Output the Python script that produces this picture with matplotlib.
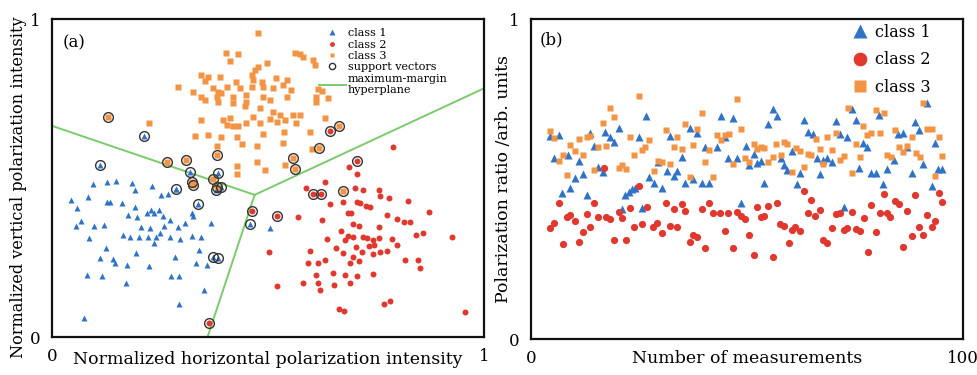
import matplotlib
matplotlib.use('Agg')
import matplotlib.pyplot as plt
from matplotlib.lines import Line2D

plt.rcParams['font.family'] = ['DejaVu Serif']

# ---- panel (a): normalized intensities ----
c1_x = [0.043, 0.058, 0.083, 0.095, 0.127, 0.149, 0.184, 0.192, 0.232, 0.253, 0.269, 0.288, 0.127, 0.134,
        0.163, 0.192, 0.230, 0.236, 0.248, 0.219, 0.176, 0.197, 0.257, 0.273, 0.323, 0.327, 0.367, 0.056,
        0.066, 0.097, 0.120, 0.086, 0.164, 0.181, 0.202, 0.222, 0.240, 0.249, 0.274, 0.296, 0.325, 0.344,
        0.205, 0.226, 0.259, 0.292, 0.307, 0.236, 0.124, 0.141, 0.110, 0.145, 0.174, 0.195, 0.225, 0.284,
        0.341, 0.334, 0.358, 0.080, 0.116, 0.172, 0.276, 0.294, 0.351, 0.294, 0.073, 0.504]
c1_y = [0.431, 0.405, 0.439, 0.481, 0.489, 0.492, 0.484, 0.461, 0.475, 0.447, 0.450, 0.465, 0.426, 0.426,
        0.421, 0.408, 0.400, 0.390, 0.400, 0.390, 0.384, 0.377, 0.379, 0.369, 0.390, 0.379, 0.360, 0.348,
        0.366, 0.350, 0.353, 0.311, 0.321, 0.314, 0.316, 0.314, 0.314, 0.327, 0.316, 0.308, 0.318, 0.314,
        0.345, 0.342, 0.348, 0.345, 0.360, 0.295, 0.280, 0.246, 0.248, 0.232, 0.227, 0.264, 0.222, 0.253,
        0.274, 0.232, 0.225, 0.196, 0.193, 0.170, 0.193, 0.193, 0.149, 0.105, 0.060, 0.342]

c2_x = [0.790, 0.707, 0.688, 0.632, 0.589, 0.701, 0.720, 0.758, 0.759, 0.781, 0.825, 0.643, 0.674, 0.707,
        0.713, 0.727, 0.737, 0.693, 0.686, 0.776, 0.798, 0.815, 0.829, 0.873, 0.570, 0.626, 0.697, 0.711,
        0.758, 0.670, 0.686, 0.697, 0.720, 0.728, 0.742, 0.758, 0.786, 0.842, 0.858, 0.925, 0.636, 0.678,
        0.657, 0.703, 0.734, 0.745, 0.759, 0.776, 0.798, 0.598, 0.673, 0.697, 0.717, 0.744, 0.503, 0.593,
        0.616, 0.632, 0.690, 0.711, 0.817, 0.848, 0.852, 0.611, 0.651, 0.678, 0.705, 0.742, 0.580, 0.616,
        0.620, 0.653, 0.690, 0.520, 0.768, 0.782, 0.665, 0.676, 0.956]
c2_y = [0.599, 0.513, 0.536, 0.486, 0.468, 0.468, 0.461, 0.461, 0.442, 0.436, 0.429, 0.419, 0.426, 0.426,
        0.421, 0.413, 0.408, 0.390, 0.390, 0.384, 0.371, 0.363, 0.363, 0.393, 0.376, 0.369, 0.356, 0.348,
        0.346, 0.332, 0.318, 0.316, 0.316, 0.311, 0.304, 0.311, 0.308, 0.321, 0.327, 0.316, 0.308, 0.304,
        0.280, 0.283, 0.285, 0.290, 0.266, 0.272, 0.290, 0.272, 0.264, 0.253, 0.266, 0.262, 0.267, 0.232,
        0.232, 0.243, 0.232, 0.238, 0.243, 0.243, 0.217, 0.195, 0.201, 0.195, 0.193, 0.199, 0.170, 0.170,
        0.149, 0.164, 0.170, 0.159, 0.105, 0.112, 0.088, 0.081, 0.079]

c3_x = [0.477, 0.402, 0.431, 0.412, 0.562, 0.574, 0.581, 0.605, 0.608, 0.497, 0.477, 0.469, 0.462, 0.346,
        0.361, 0.354, 0.388, 0.427, 0.466, 0.485, 0.518, 0.543, 0.292, 0.327, 0.373, 0.385, 0.404, 0.435,
        0.462, 0.489, 0.512, 0.534, 0.554, 0.616, 0.624, 0.346, 0.382, 0.392, 0.419, 0.450, 0.489, 0.544,
        0.611, 0.639, 0.354, 0.385, 0.419, 0.450, 0.504, 0.612, 0.446, 0.481, 0.512, 0.527, 0.466, 0.504,
        0.412, 0.396, 0.558, 0.574, 0.632, 0.225, 0.346, 0.404, 0.419, 0.431, 0.450, 0.481, 0.520, 0.539,
        0.564, 0.597, 0.331, 0.361, 0.392, 0.429, 0.489, 0.537, 0.439, 0.475, 0.535, 0.601, 0.381, 0.429,
        0.429, 0.475, 0.493, 0.539]
c3_y = [0.955, 0.894, 0.890, 0.869, 0.894, 0.890, 0.880, 0.871, 0.855, 0.861, 0.850, 0.840, 0.824, 0.824,
        0.817, 0.806, 0.817, 0.803, 0.808, 0.803, 0.814, 0.808, 0.785, 0.772, 0.782, 0.772, 0.785, 0.782,
        0.785, 0.785, 0.782, 0.793, 0.777, 0.779, 0.775, 0.756, 0.756, 0.766, 0.756, 0.761, 0.756, 0.756,
        0.756, 0.751, 0.746, 0.740, 0.735, 0.740, 0.746, 0.740, 0.725, 0.719, 0.709, 0.698, 0.693, 0.685,
        0.688, 0.683, 0.698, 0.698, 0.688, 0.672, 0.681, 0.667, 0.664, 0.662, 0.674, 0.674, 0.677, 0.681,
        0.672, 0.646, 0.632, 0.636, 0.630, 0.630, 0.639, 0.646, 0.607, 0.601, 0.609, 0.591, 0.601, 0.538,
        0.513, 0.549, 0.526, 0.541]

# support vectors per class
sv1_x = [0.112, 0.212, 0.320, 0.385, 0.286, 0.337, 0.459, 0.373, 0.385, 0.390, 0.379]
sv1_y = [0.541, 0.632, 0.518, 0.517, 0.465, 0.419, 0.356, 0.253, 0.250, 0.473, 0.461]
sv2_x = [0.643, 0.707, 0.605, 0.622, 0.464, 0.520, 0.364]
sv2_y = [0.649, 0.552, 0.450, 0.450, 0.395, 0.379, 0.044]
sv3_x = [0.130, 0.265, 0.310, 0.381, 0.325, 0.327, 0.373, 0.381, 0.558, 0.562, 0.619, 0.665, 0.674]
sv3_y = [0.691, 0.549, 0.557, 0.573, 0.489, 0.479, 0.496, 0.471, 0.562, 0.528, 0.594, 0.662, 0.458]

# hyperplane: three rays from a common vertex
hp_vertex = (0.469, 0.447)
hp_ends = [(0.0, 0.664), (1.0, 0.782), (0.360, 0.0)]

# ---- panel (b): polarization ratio per measurement ----
b1_x = [4.5, 5.4, 6.4, 7.2, 8.5, 9.1, 10.1, 11.0, 12.0, 12.9, 13.7, 14.5, 15.6, 16.6, 17.2, 18.2, 19.1, 20.3,
        21.0, 21.8, 22.6, 23.3, 24.1, 24.9, 25.7, 26.6, 27.4, 28.4, 29.5, 30.3, 31.4, 32.2, 33.0, 33.7, 34.9,
        35.7, 36.7, 37.6, 38.5, 39.5, 40.3, 41.3, 43.1, 43.9, 44.9, 45.7, 46.7, 47.6, 48.5, 49.8, 50.5, 51.5,
        52.2, 53.2, 53.9, 54.9, 55.9, 56.9, 57.8, 58.6, 59.3, 60.3, 61.5, 62.2, 63.2, 64.2, 65.2, 66.1, 66.9,
        67.6, 68.6, 69.6, 70.6, 71.5, 72.4, 73.2, 74.2, 75.2, 76.0, 76.9, 77.8, 78.6, 79.8, 80.6, 81.5, 82.4,
        84.0, 85.0, 86.1, 87.1, 88.1, 88.8, 89.8, 90.8, 91.7, 92.7, 93.5, 94.2, 95.2]
b1_y = [0.634, 0.567, 0.638, 0.457, 0.575, 0.473, 0.504, 0.557, 0.516, 0.450, 0.645, 0.603, 0.539, 0.523,
        0.648, 0.632, 0.617, 0.661, 0.405, 0.450, 0.460, 0.468, 0.473, 0.630, 0.408, 0.697, 0.505, 0.489,
        0.554, 0.471, 0.526, 0.634, 0.509, 0.526, 0.570, 0.489, 0.661, 0.499, 0.645, 0.489, 0.601, 0.489,
        0.601, 0.697, 0.630, 0.565, 0.690, 0.565, 0.426, 0.603, 0.544, 0.578, 0.549, 0.557, 0.489, 0.672,
        0.718, 0.697, 0.565, 0.544, 0.528, 0.589, 0.484, 0.518, 0.686, 0.648, 0.641, 0.565, 0.516, 0.559,
        0.565, 0.554, 0.682, 0.641, 0.414, 0.630, 0.718, 0.686, 0.536, 0.614, 0.599, 0.520, 0.520, 0.700,
        0.484, 0.530, 0.561, 0.641, 0.645, 0.601, 0.520, 0.679, 0.653, 0.547, 0.739, 0.478, 0.614, 0.533,
        0.533]

b2_x = [4.5, 5.4, 6.4, 7.3, 8.3, 9.1, 10.1, 11.0, 12.0, 12.9, 13.7, 14.6, 15.6, 16.8, 17.4, 18.3, 19.3, 20.3,
        21.0, 22.0, 23.0, 23.9, 24.9, 25.7, 26.8, 28.2, 29.1, 30.3, 31.3, 32.2, 33.1, 33.9, 34.9, 35.7, 36.7,
        37.6, 38.5, 39.5, 40.3, 41.3, 42.2, 43.8, 44.9, 45.7, 46.7, 47.6, 48.5, 49.5, 50.5, 51.5, 52.2, 53.2,
        53.9, 54.9, 55.9, 56.9, 57.6, 58.6, 59.6, 60.3, 61.1, 62.2, 63.2, 64.2, 64.9, 65.7, 66.9, 67.6, 68.6,
        69.6, 70.7, 71.5, 72.4, 73.2, 74.4, 75.2, 76.1, 77.0, 78.0, 78.8, 79.8, 80.7, 81.7, 82.4, 83.2, 84.2,
        85.2, 86.1, 87.1, 88.1, 88.8, 89.8, 90.8, 91.7, 92.7, 93.5, 94.5, 95.2]
b2_y = [0.346, 0.364, 0.424, 0.297, 0.380, 0.388, 0.370, 0.304, 0.335, 0.390, 0.351, 0.426, 0.380, 0.536,
        0.380, 0.374, 0.311, 0.398, 0.377, 0.309, 0.408, 0.349, 0.478, 0.359, 0.414, 0.351, 0.364, 0.330,
        0.426, 0.353, 0.405, 0.349, 0.422, 0.401, 0.304, 0.325, 0.318, 0.405, 0.286, 0.424, 0.395, 0.393,
        0.339, 0.393, 0.283, 0.398, 0.384, 0.374, 0.325, 0.263, 0.414, 0.380, 0.384, 0.416, 0.255, 0.424,
        0.359, 0.353, 0.301, 0.341, 0.349, 0.339, 0.464, 0.395, 0.436, 0.384, 0.403, 0.311, 0.299, 0.346,
        0.391, 0.395, 0.341, 0.346, 0.398, 0.343, 0.339, 0.377, 0.273, 0.419, 0.335, 0.393, 0.453, 0.395,
        0.380, 0.432, 0.422, 0.289, 0.401, 0.322, 0.450, 0.349, 0.325, 0.388, 0.351, 0.370, 0.457, 0.427]

b3_x = [4.5, 5.4, 6.4, 7.3, 8.3, 9.1, 10.1, 11.0, 12.0, 12.9, 13.7, 14.6, 15.4, 16.6, 17.4, 18.3, 19.3, 20.3,
        21.0, 22.0, 23.0, 23.9, 24.9, 25.7, 26.4, 27.4, 28.4, 29.5, 30.3, 31.3, 32.2, 33.1, 33.9, 34.9, 35.7,
        36.7, 37.6, 38.5, 39.5, 40.3, 41.3, 42.2, 43.0, 43.9, 44.9, 45.9, 46.7, 47.6, 48.5, 49.5, 50.5, 51.5,
        52.2, 53.2, 53.9, 54.9, 55.9, 56.7, 57.8, 58.6, 59.3, 60.3, 61.3, 62.2, 63.2, 64.2, 64.9, 65.9, 66.9,
        67.6, 68.6, 69.6, 70.6, 71.5, 72.4, 73.4, 74.4, 75.2, 76.1, 76.9, 77.8, 78.8, 79.8, 80.7, 81.7, 82.4,
        83.4, 84.2, 85.2, 86.1, 87.1, 88.1, 89.1, 90.0, 90.8, 91.7, 92.7, 93.5, 94.5, 95.2]
b3_y = [0.650, 0.627, 0.557, 0.575, 0.513, 0.606, 0.589, 0.624, 0.575, 0.630, 0.634, 0.528, 0.601, 0.676,
        0.603, 0.721, 0.693, 0.536, 0.544, 0.533, 0.632, 0.575, 0.759, 0.591, 0.601, 0.622, 0.526, 0.557,
        0.554, 0.653, 0.547, 0.599, 0.630, 0.593, 0.672, 0.505, 0.606, 0.655, 0.705, 0.554, 0.591, 0.507,
        0.638, 0.622, 0.638, 0.641, 0.547, 0.749, 0.655, 0.565, 0.554, 0.611, 0.593, 0.599, 0.596, 0.554,
        0.570, 0.609, 0.575, 0.617, 0.609, 0.523, 0.596, 0.589, 0.539, 0.578, 0.575, 0.624, 0.593, 0.547,
        0.632, 0.591, 0.645, 0.561, 0.572, 0.721, 0.520, 0.611, 0.568, 0.666, 0.638, 0.643, 0.716, 0.645,
        0.705, 0.575, 0.570, 0.653, 0.601, 0.585, 0.603, 0.632, 0.582, 0.568, 0.739, 0.658, 0.658, 0.509,
        0.630, 0.572]

blue = '#2f72c6'
red = '#e0382e'
orange = '#f29444'
green = '#7acb6c'

fig = plt.figure(figsize=(9.78, 3.75), dpi=100)
ax1 = fig.add_axes([0.0532, 0.1013, 0.4417, 0.848])
ax2 = fig.add_axes([0.543, 0.096, 0.4417, 0.853])

# (a)
for end in hp_ends:
    ax1.plot([hp_vertex[0], end[0]], [hp_vertex[1], end[1]], color=green, lw=1.4, zorder=1)
ax1.plot(c1_x, c1_y, '^', color=blue, ms=4.3, mec='none', zorder=2)
ax1.plot(c2_x, c2_y, 'o', color=red, ms=4.3, mec='none', zorder=2)
ax1.plot(c3_x, c3_y, 's', color=orange, ms=4.0, mec='none', zorder=2)
ax1.plot(sv1_x, sv1_y, '^', color=blue, ms=4.3, mec='none', zorder=3)
ax1.plot(sv2_x, sv2_y, 'o', color=red, ms=4.3, mec='none', zorder=3)
ax1.plot(sv3_x, sv3_y, 's', color=orange, ms=4.0, mec='none', zorder=3)
ax1.plot(sv1_x + sv2_x + sv3_x, sv1_y + sv2_y + sv3_y, 'o', ms=7, mfc='none', mec='#333333', mew=1.0, zorder=4)

ax1.set_xlim(0, 1)
ax1.set_ylim(0, 1)
ax1.set_xticks([0, 1])
ax1.set_yticks([0, 1])
ax1.tick_params(length=0, labelsize=12, pad=8)
ax1.set_xlabel('Normalized horizontal polarization intensity', fontsize=12.5)
ax1.set_ylabel('Normalized vertical polarization intensity', fontsize=11.6)
ax1.xaxis.set_label_coords(0.5, -0.045)
ax1.yaxis.set_label_coords(-0.058, 0.47)
ax1.text(0.025, 0.925, '(a)', transform=ax1.transAxes, fontsize=12, va='center')

handles_a = [Line2D([], [], ls='none', marker='^', color=blue, ms=4, mec='none'),
             Line2D([], [], ls='none', marker='o', color=red, ms=3.5, mec='none'),
             Line2D([], [], ls='none', marker='s', color=orange, ms=3.5, mec='none'),
             Line2D([], [], ls='none', marker='o', mfc='none', mec='#333333', mew=1.0, ms=4.5),
             Line2D([], [], color=green, lw=1.4)]
labels_a = ['class 1', 'class 2', 'class 3', 'support vectors', 'maximum-margin\nhyperplane']
ax1.legend(handles_a, labels_a, loc='upper left', bbox_to_anchor=(0.6, 0.995), frameon=False,
           fontsize=8, handlelength=2.4, handletextpad=0.2, labelspacing=0.12, borderpad=0.2)

# (b)
ax2.plot(b1_x, b1_y, '^', color=blue, ms=5.2, mec='none', label='class 1')
ax2.plot(b2_x, b2_y, 'o', color=red, ms=5.2, mec='none', label='class 2')
ax2.plot(b3_x, b3_y, 's', color=orange, ms=4.8, mec='none', label='class 3')
ax2.set_xlim(0, 100)
ax2.set_ylim(0, 1)
ax2.set_xticks([0, 100])
ax2.set_yticks([0, 1])
ax2.tick_params(length=0, labelsize=12, pad=8)
ax2.set_xlabel('Number of measurements', fontsize=12.5)
ax2.set_ylabel('Polarization ratio /arb. units', fontsize=12.5)
ax2.xaxis.set_label_coords(0.5, -0.034)
ax2.yaxis.set_label_coords(-0.044, 0.5)
ax2.text(0.02, 0.934, '(b)', transform=ax2.transAxes, fontsize=12, va='center')
ax2.legend(loc='upper left', bbox_to_anchor=(0.743, 0.985), frameon=False, fontsize=11.5,
           markerscale=1.9, handlelength=1.0, handletextpad=0.45, labelspacing=0.65,
           borderpad=0, borderaxespad=0)

for ax in (ax1, ax2):
    for sp in ax.spines.values():
        sp.set_linewidth(1.6)
        sp.set_color('#111111')

fig.savefig('out.png', dpi=100)
